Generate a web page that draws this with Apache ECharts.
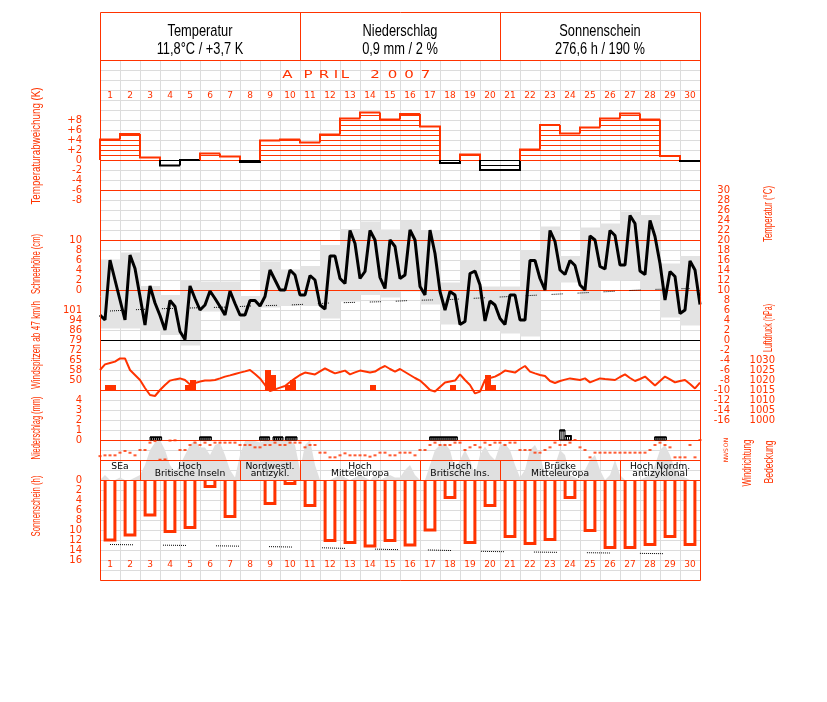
<!DOCTYPE html>
<html><head><meta charset="utf-8">
<script src="https://cdn.jsdelivr.net/npm/echarts@6/dist/echarts.min.js"></script>
<style>html,body{margin:0;padding:0;background:#fff}#c{width:827px;height:702px}</style>
</head><body><div id="c"></div>
<script>
const RED = '#ff3300';
const SANS = "'Liberation Sans',Arial,sans-serif";
const PIX = "'DejaVu Sans',sans-serif";

// ---------- DATA ----------
const days = Array.from({length: 30}, (_, i) => String(i + 1));
const headerTitles = ['Temperatur', 'Niederschlag', 'Sonnenschein'];
const headerValues = ['11,8°C / +3,7 K', '0,9 mm / 2 %', '276,6 h / 190 %'];
const monthTitle = 'APRIL 2007';

// daily temperature deviation (K)
const tempDev = [4.1, 5.2, 0.5, -1.1, 0.0, 1.3, 0.7, -0.4, 3.9, 4.1, 3.5, 5.1, 8.3, 9.5, 8.1, 9.2, 6.7, -0.6, 1.1, -2.0, -2.0, 2.1, 7.0, 5.3, 6.5, 8.3, 9.3, 8.1, 0.8, -0.2];

// 6-hourly air temperature (°C), from 1 Apr 00h to 1 May 00h
const temp6h = [5, 4, 16, 12, 8, 4, 17, 14.3, 8.7, 3,
  10.8, 7.4, 4.9, 2, 7.9, 6.7, 1.7, 0.1, 10.8, 8.3,
  6, 7, 9.8, 8.3, 6.7, 5, 9.8, 7.3, 5, 5,
  7.9, 7.9, 6.8, 8.7, 14, 12, 10, 10, 14, 13,
  9, 9, 12.9, 12, 7, 6.2, 16.8, 16.8, 12.3, 11.3,
  21.9, 19.3, 12.3, 13.7, 21.9, 20, 12.5, 10.3, 20, 18.7,
  12.3, 13, 22, 20, 10.7, 9, 22, 17.3, 9.7, 6,
  9.7, 9, 3.1, 3.7, 13.3, 13.8, 11, 3.8, 7.8, 7,
  4.3, 3.1, 9, 9, 4, 4, 15.9, 15.9, 12.3, 10,
  21.9, 19.7, 14, 13.1, 15.9, 14.9, 11, 10, 20.8, 20,
  14.7, 14.2, 21.9, 20.9, 15, 15, 24.9, 23.3, 13.8, 13.1,
  23.9, 20.7, 15.3, 8, 13.7, 12.7, 5.3, 6, 15.8, 14,
  7.1];

// daily max / min temperature (°C)
const tempMax = [16.1, 17.5, 10.8, 9.0, 12.0, 11.7, 11.7, 8.8, 15.7, 14.1, 14.8, 19.0, 22.2, 23.7, 22.1, 23.9, 22.0, 11.5, 16.0, 10.7, 10.7, 18.0, 22.7, 16.8, 22.5, 23.3, 25.7, 25.0, 15.3, 16.8];
const tempMin = [2.3, 2.3, 2.0, 1.0, -1.1, 5.7, 4.0, 2.0, 6.5, 6.8, 6.8, 4.3, 7.7, 9.0, 8.5, 9.7, 7.1, 3.1, 2.0, 2.0, 1.3, 0.7, 9.7, 11.5, 7.8, 11.8, 12.0, 10.0, 4.5, 2.9];
// long-term mean daily temperature (°C)
const tempNormal = [5.8, 6.0, 6.2, 6.3, 6.4, 6.5, 6.6, 6.8, 6.9, 7.0, 7.2, 7.4, 7.5, 7.6, 7.7, 7.9, 8.0, 8.1, 8.3, 8.5, 8.7, 8.9, 9.1, 9.3, 9.5, 9.7, 9.9, 10.1, 10.2, 10.3];

// 6-hourly air pressure (hPa)
const pressure6h = [1025, 1027.8, 1028.5, 1029.2, 1030.8, 1030.8, 1025, 1022.5, 1020, 1016,
  1012.5, 1012, 1015, 1017.5, 1019.7, 1020.3, 1020.8, 1020, 1017.8, 1018.5,
  1019.2, 1019.7, 1019.8, 1020, 1020.8, 1021.7, 1022.3, 1023, 1023.7, 1024.3,
  1025, 1023, 1020.8, 1017.5, 1014.5, 1015.3, 1016.2, 1017, 1019, 1020.8,
  1022.5, 1023.7, 1023.3, 1022.8, 1024.3, 1025.8, 1024.5, 1023.3, 1024, 1024.7,
  1022.8, 1023.8, 1024.7, 1024.2, 1023.7, 1024.2, 1025.8, 1027, 1025.5, 1024.2,
  1025.5, 1024, 1022.5, 1021, 1019.7, 1017.5, 1015, 1014.2, 1016.5, 1018.7,
  1019.2, 1019.7, 1022.8, 1020, 1017.5, 1013.3, 1014.2, 1020, 1021, 1021.7,
  1023, 1024.7, 1024.2, 1023.7, 1025.5, 1027, 1024.2, 1023.3, 1022.5, 1022,
  1019.5, 1018.5, 1019.5, 1020.2, 1020.8, 1020.4, 1020, 1020.8, 1018.8, 1019.8,
  1020.8, 1020.5, 1020.3, 1020, 1021.5, 1022.8, 1021, 1019.5, 1020.5, 1021.7,
  1019.5, 1017.2, 1019.5, 1021.7, 1020.3, 1018.8, 1019.5, 1020, 1018, 1015.8,
  1018.7];

// wind gusts >= 47 km/h: start time (days since 1 Apr 00h, 6-hour slots) and speed (km/h)
const gustTime = [0.25, 0.5, 4.25, 4.5, 8.25, 8.5, 9.25, 9.5, 13.5, 17.5, 19.25, 19.5];
const gustKmh = [46.8, 46.8, 46.8, 50.4, 57.6, 54.0, 46.8, 50.4, 46.8, 46.8, 54.0, 46.8];

// precipitation events: start, end (days since 1 Apr 00h), amount (mm)
const precipStart = [2.5, 4.98, 7.98, 8.65, 9.27, 16.48, 22.98, 23.25, 27.73];
const precipEnd = [3.08, 5.57, 8.48, 9.15, 9.85, 17.87, 23.25, 23.57, 28.32];
const precipMm = [0.3, 0.3, 0.3, 0.3, 0.3, 0.3, 1.0, 0.45, 0.3];

// 6-hourly wind direction (degrees)
const windDir6h = [290, 276, 276, 276, 228, 198, 230, 276, 180, 180,
  48, 20, 355, 350, 10, 5, 180, 180, 90, 48,
  90, 48, 90, 48, 48, 48, 48, 48, 90, 90,
  90, 132, 132, 90, 90, 48, 90, 90, 48, 48,
  48, 132, 90, 90, 228, 228, 312, 312, 276, 240,
  276, 276, 276, 276, 300, 276, 228, 228, 276, 276,
  228, 228, 228, 276, 180, 180, 90, 48, 90, 90,
  90, 48, 48, 180, 132, 90, 132, 48, 90, 48,
  48, 90, 48, 48, 180, 180, 180, 228, 228, 180,
  132, 48, 90, 90, 48, 0, 132, 180, 312, 228,
  228, 228, 228, 228, 228, 228, 228, 228, 228, 228,
  180, 90, 48, 90, 132, 312, 312, 312, 90, 312,
  0];

// 6-hourly cloud cover (octas)
const cloud6h = [0, 1, 0, 0, 0.5, 0, 0, 0.5, 1, 3,
  6, 7.5, 8, 6, 3, 1.5, 3, 5, 7, 8,
  6.5, 6.5, 5, 7, 7.4, 5, 2, 0.5, 5, 7.8,
  8, 7.8, 7.5, 7.8, 8, 8, 7.8, 8, 8, 7,
  2, 7, 8, 3, 0, 0, 0, 0.5, 1, 0.5,
  0, 0.5, 1, 0.5, 0, 1, 0, 0.5, 1, 0.5,
  0.5, 2, 3, 1, 0, 0, 3, 6, 7, 7.3,
  6, 2, 4, 6, 4, 1, 5, 6.7, 5, 4,
  7, 7.3, 6, 3, 0.5, 2, 6, 7, 5, 1,
  0.5, 3, 6, 5, 1, 0.5, 0, 2, 4, 5,
  2, 0, 1, 4, 1, 0, 0, 0, 0, 0.5,
  1, 3, 6, 7, 5, 2, 1, 0.5, 0, 0,
  0];

// weather situation periods
const wlStart = [0, 2, 7, 10, 16, 20, 26];
const wlEnd = [2, 7, 10, 16, 20, 26, 30];
const wlLine1 = ['SEa', 'Hoch', 'Nordwestl.', 'Hoch', 'Hoch', 'Brücke', 'Hoch Nordm.'];
const wlLine2 = ['', 'Britische Inseln', 'antizykl.', 'Mitteleuropa', 'Britische Ins.', 'Mitteleuropa', 'antizyklonal'];

// daily sunshine duration (h) and astronomically possible duration (h)
const sunshine = [12.0, 11.0, 7.0, 10.3, 9.5, 1.3, 7.3, 0, 4.7, 0.7, 5.1, 12.1, 12.5, 13.2, 12.1, 13.0, 10.0, 3.5, 12.5, 5.1, 11.3, 12.7, 11.9, 3.5, 10.1, 13.5, 13.5, 12.9, 11.3, 12.9];
const sunPossible = [12.9, 12.95, 13.0, 13.05, 13.1, 13.15, 13.2, 13.27, 13.33, 13.4, 13.5, 13.6, 13.7, 13.8, 13.9, 13.95, 14.0, 14.1, 14.2, 14.3, 14.35, 14.4, 14.45, 14.5, 14.55, 14.6, 14.65, 14.7, 14.75, 14.8];

// tick labels
const devTickVals = [8, 6, 4, 2, 0, -2, -4, -6, -8];
const devTickLabels = ['+8', '+6', '+4', '+2', '0', '-2', '-4', '-6', '-8'];
const snowTicks = [10, 8, 6, 4, 2, 0];
const gustTickLabels = ['50', '58', '65', '72', '79', '86', '94', '101'];
const precipTicks = [4, 3, 2, 1, 0];
const sunTicks = [0, 2, 4, 6, 8, 10, 12, 14, 16];
const tempTicks = [30, 28, 26, 24, 22, 20, 18, 16, 14, 12, 10, 8, 6, 4, 2, 0, -2, -4, -6, -8, -10, -12, -14, -16];
const pressTicks = [1030, 1025, 1020, 1015, 1010, 1005, 1000];
const windDirTicks = [0, 90, 180, 270, 360];
const windDirLabels = ['N', 'O', 'S', 'W', 'N'];

// ---------- CHART ----------
const mctx = document.createElement('canvas').getContext('2d');
function textW(text, font) { mctx.font = font; return mctx.measureText(text).width; }

const chart = echarts.init(document.getElementById('c'), null, {renderer: 'canvas'});
const L = 100, W = 600;
function grid(top, height) { return {left: L, width: W, top: top, height: height, containLabel: false, outerBoundsMode: 'none'}; }
const grids = [
  grid(60, 520),   // 0 background grid
  grid(100, 100),  // 1 temperature deviation
  grid(190, 230),  // 2 temperature
  grid(340, 80),   // 3 pressure
  grid(300, 90),   // 4 wind gusts
  grid(390, 50),   // 5 precipitation
  grid(440, 20),   // 6 wind direction
  grid(440, 40),   // 7 cloud cover
  grid(480, 80),   // 8 sunshine
  grid(100, 460)   // 9 day labels
];
function hx(g) { return {type: 'value', gridIndex: g, min: 0, max: 30, show: false}; }
const lblBase = {color: RED, fontSize: 10, fontFamily: PIX, showMinLabel: true, showMaxLabel: true, hideOverlap: false};
const hideAxis = {axisLine: {show: false}, axisTick: {show: false}, splitLine: {show: false}};

const xAxes = [
  {type: 'value', gridIndex: 0, min: 0, max: 30, interval: 1, axisLine: {show: false}, axisTick: {show: false}, axisLabel: {show: false},
   splitLine: {show: true, lineStyle: {color: '#dcdcdc', width: 1}}},
  hx(1), hx(2), hx(3), hx(4), hx(5), hx(6), hx(7), hx(8),
  Object.assign({type: 'category', gridIndex: 9, data: days, position: 'top', boundaryGap: true,
    axisLabel: {color: RED, fontSize: 9, fontFamily: PIX, interval: 0, margin: 4, verticalAlign: 'middle'}}, hideAxis),
  Object.assign({type: 'category', gridIndex: 9, data: days, position: 'bottom', boundaryGap: true,
    axisLabel: {color: RED, fontSize: 9, fontFamily: PIX, interval: 0, margin: 5, verticalAlign: 'middle'}}, hideAxis)
];

function lbl(fmt, extra) { return Object.assign({}, lblBase, {formatter: fmt}, extra || {}); }
const yAxes = [
  {type: 'value', gridIndex: 0, min: 0, max: 52, interval: 1, inverse: true, axisLine: {show: false}, axisTick: {show: false}, axisLabel: {show: false},
   splitLine: {show: true, lineStyle: {color: '#dcdcdc', width: 1}}},
  Object.assign({type: 'value', gridIndex: 1, min: -8, max: 12, interval: 2, position: 'left',
    axisLabel: lbl(v => { const i = devTickVals.indexOf(Math.round(v)); return i < 0 ? '' : devTickLabels[i]; }, {margin: 18})}, hideAxis),
  Object.assign({type: 'value', gridIndex: 2, min: -16, max: 30, interval: 2, position: 'right',
    axisLabel: lbl(v => tempTicks.indexOf(Math.round(v)) < 0 ? '' : String(Math.round(v)), {margin: 30, align: 'right'})}, hideAxis),
  Object.assign({type: 'value', gridIndex: 2, min: -26, max: 20, interval: 2, position: 'left',
    axisLabel: lbl(v => snowTicks.indexOf(Math.round(v)) < 0 ? '' : String(Math.round(v)), {margin: 18})}, hideAxis),
  Object.assign({type: 'value', gridIndex: 3, min: 1000, max: 1040, interval: 5, position: 'right',
    axisLabel: lbl(v => pressTicks.indexOf(Math.round(v)) < 0 ? '' : String(Math.round(v)), {margin: 75, align: 'right'})}, hideAxis),
  Object.assign({type: 'value', gridIndex: 4, min: 43.2, max: 108, interval: 7.2, position: 'left',
    axisLabel: lbl(v => { const k = Math.round((v - 43.2) / 7.2) - 1; return (k >= 0 && k < gustTickLabels.length) ? gustTickLabels[k] : ''; }, {margin: 18})}, hideAxis),
  Object.assign({type: 'value', gridIndex: 5, min: 0, max: 5, interval: 1, position: 'left',
    axisLabel: lbl(v => precipTicks.indexOf(Math.round(v)) < 0 ? '' : String(Math.round(v)), {margin: 18})}, hideAxis),
  {type: 'value', gridIndex: 6, min: 0, max: 360, interval: 90, inverse: true, position: 'right', show: false},
  {type: 'value', gridIndex: 7, min: 0, max: 8, show: false},
  Object.assign({type: 'value', gridIndex: 8, min: 0, max: 16, interval: 2, inverse: true, position: 'left',
    axisLabel: lbl(v => sunTicks.indexOf(Math.round(v)) < 0 ? '' : String(Math.round(v)), {margin: 18})}, hideAxis),
  {type: 'value', gridIndex: 9, min: 0, max: 1, show: false}
];

const series = [];
// temperature deviation hatched steps
series.push({
  type: 'custom', xAxisIndex: 1, yAxisIndex: 1, z: 3,
  data: tempDev.map((v, i) => [i, v]),
  renderItem: function (params, api) {
    const i = api.value(0), v = api.value(1);
    const sg = x => (x > 0 ? 1 : -1);
    const p0 = api.coord([i, 0]), p1 = api.coord([i + 1, v]);
    const col = v > 0 ? RED : '#000';
    const kids = [];
    const n = Math.floor(Math.abs(v) + 1e-9);
    for (let k = 0; k <= n; k++) {
      const y = Math.round(api.coord([i, sg(v) * k])[1]) + 0.5;
      kids.push({type: 'line', shape: {x1: p0[0], y1: y, x2: p1[0], y2: y}, style: {stroke: col, lineWidth: 1}});
    }
    const prev = i > 0 ? tempDev[i - 1] : null;
    const next = i < tempDev.length - 1 ? tempDev[i + 1] : null;
    const startV = (prev !== null && sg(prev) === sg(v)) ? prev : 0;
    const pts = [[p0[0], api.coord([i, startV])[1]], [p0[0], p1[1]], [p1[0], p1[1]]];
    if (next === null || sg(next) !== sg(v)) pts.push([p1[0], p0[1]]);
    kids.push({type: 'polyline', shape: {points: pts}, style: {stroke: col, lineWidth: 2, fill: null}});
    return {type: 'group', children: kids};
  }
});
// temperature daily range boxes
series.push({
  type: 'custom', xAxisIndex: 2, yAxisIndex: 2, z: 1,
  data: tempMax.map((v, i) => [i, tempMin[i], v]),
  encode: {x: 0, y: [1, 2]},
  renderItem: function (params, api) {
    const i = api.value(0);
    const a = api.coord([i, api.value(2)]), b = api.coord([i + 1, api.value(1)]);
    return {type: 'rect', shape: {x: a[0], y: a[1], width: b[0] - a[0], height: b[1] - a[1]}, style: {fill: '#e3e3e3'}};
  }
});
// long-term mean temperature (dotted)
series.push({
  type: 'line', xAxisIndex: 2, yAxisIndex: 2, z: 3, symbol: 'none', silent: true,
  data: tempNormal.map((v, i) => [i + 0.5, v]),
  lineStyle: {color: '#000', width: 1, type: [1, 1, 1, 1, 1, 1, 1, 1, 1, 1, 1, 15]}
});
// temperature line
series.push({
  type: 'line', xAxisIndex: 2, yAxisIndex: 2, z: 4, symbol: 'none',
  data: temp6h.map((v, k) => [k / 4, v]),
  lineStyle: {color: '#000', width: 3}
});
// pressure
series.push({
  type: 'line', xAxisIndex: 3, yAxisIndex: 4, z: 4, symbol: 'none',
  data: pressure6h.map((v, k) => [k / 4, v]),
  lineStyle: {color: RED, width: 2}
});
// wind gusts
series.push({
  type: 'custom', xAxisIndex: 4, yAxisIndex: 5, z: 3,
  data: gustTime.map((t, j) => [t, gustKmh[j]]),
  renderItem: function (params, api) {
    const t = api.value(0);
    const a = api.coord([t, api.value(1)]), b = api.coord([t + 0.25, 43.2]);
    return {type: 'rect', shape: {x: a[0], y: a[1], width: b[0] - a[0] + 1, height: b[1] - a[1]}, style: {fill: RED}};
  }
});
// precipitation
series.push({
  type: 'custom', xAxisIndex: 5, yAxisIndex: 6, z: 4,
  data: precipStart.map((s, j) => [s, precipEnd[j], precipMm[j]]),
  encode: {x: [0, 1], y: 2},
  renderItem: function (params, api) {
    const a = api.coord([api.value(0), api.value(2)]), b = api.coord([api.value(1), 0]);
    const kids = [{type: 'rect', shape: {x: a[0], y: a[1], width: b[0] - a[0], height: b[1] - a[1]}, style: {fill: '#fff', stroke: '#000', lineWidth: 1}},
      {type: 'line', shape: {x1: a[0], y1: a[1] + 0.5, x2: b[0], y2: a[1] + 0.5}, style: {stroke: '#000', lineWidth: 2}}];
    for (let x = a[0] + 1.5; x < b[0] - 0.5; x += 2) {
      kids.push({type: 'line', shape: {x1: x, y1: a[1] + 1, x2: x, y2: b[1]}, style: {stroke: '#000', lineWidth: 1}});
    }
    return {type: 'group', children: kids};
  }
});
// cloud cover
series.push({
  type: 'line', xAxisIndex: 7, yAxisIndex: 8, z: 1, symbol: 'none',
  data: cloud6h.map((v, k) => [k / 4, v]),
  lineStyle: {width: 0, color: '#e0e0e0'},
  areaStyle: {color: '#e0e0e0', opacity: 1}
});
// wind direction
series.push({
  type: 'scatter', xAxisIndex: 6, yAxisIndex: 7, z: 4, symbol: 'rect', symbolSize: [3, 2],
  data: windDir6h.map((d, k) => [k / 4, d]),
  itemStyle: {color: RED}
});
// wind direction axis letters (placed through the wind-direction scale)
series.push({
  type: 'custom', xAxisIndex: 6, yAxisIndex: 7, z: 6, silent: true, clip: false,
  data: windDirTicks.map((d, j) => [30, d, j]),
  renderItem: function (params, api) {
    const p = api.coord([30, api.value(1)]);
    return {type: 'text', x: p[0] + 26, y: p[1], rotation: Math.PI / 2,
      style: {text: windDirLabels[api.value(2)], fill: RED, font: '6px ' + PIX, textAlign: 'center', textVerticalAlign: 'middle', align: 'center', verticalAlign: 'middle'}};
  }
});
// weather situation boxes
const WLFONT = '8px ' + PIX;
series.push({
  type: 'custom', xAxisIndex: 7, yAxisIndex: 8, z: 6,
  data: wlStart.map((s, j) => [s, wlEnd[j], j]),
  encode: {x: [0, 1], y: 2},
  renderItem: function (params, api) {
    const j = api.value(2);
    const a = api.coord([api.value(0), 8]), b = api.coord([api.value(1), 0]);
    const top = a[1] + 20, bot = b[1];
    const cx = (a[0] + b[0]) / 2;
    const kids = [];
    if (api.value(0) > 0) kids.push({type: 'line', shape: {x1: Math.round(a[0]) + 0.5, y1: top, x2: Math.round(a[0]) + 0.5, y2: bot}, style: {stroke: RED, lineWidth: 1}});
    const ts = {fill: '#000', font: WLFONT, textAlign: 'center', textVerticalAlign: 'middle', align: 'center', verticalAlign: 'middle'};
    kids.push({type: 'text', x: cx, y: top + 6.5, scaleX: 1.15, style: Object.assign({text: wlLine1[j]}, ts)});
    kids.push({type: 'text', x: cx, y: top + 14, scaleX: 1.15, style: Object.assign({text: wlLine2[j]}, ts)});
    return {type: 'group', children: kids};
  }
});
// sunshine bars
series.push({
  type: 'custom', xAxisIndex: 8, yAxisIndex: 9, z: 4,
  data: sunshine.map((h, i) => [i, h]),
  renderItem: function (params, api) {
    const i = api.value(0), h = api.value(1);
    if (!h) return null;
    const c0 = api.coord([i + 0.5, 0]), c1 = api.coord([i + 0.5, h]);
    const hw = api.size([1, 0])[0] * 0.245;
    return {type: 'group', children: [
      {type: 'rect', shape: {x: c0[0] - hw, y: c0[1] + 1, width: 2 * hw, height: c1[1] - c0[1] - 1}, style: {fill: '#fff'}},
      {type: 'polyline', shape: {points: [[c0[0] - hw, c0[1] + 1], [c0[0] - hw, c1[1]], [c0[0] + hw, c1[1]], [c0[0] + hw, c0[1] + 1]]}, style: {stroke: RED, lineWidth: 3, fill: null}}
    ]};
  }
});
// possible sunshine (dotted)
const sunDash = []; for (let k = 0; k < 12; k++) sunDash.push(1, 1); sunDash[sunDash.length - 1] = 30;
series.push({
  type: 'line', xAxisIndex: 8, yAxisIndex: 9, z: 5, symbol: 'none', silent: true,
  data: sunPossible.map((v, i) => [i + 0.5, v]),
  lineStyle: {color: '#000', width: 1, type: sunDash}
});

// ---------- GRAPHIC (frame, separators, titles) ----------
const g = [];
const CENTER = {textAlign: 'center', textVerticalAlign: 'middle', align: 'center', verticalAlign: 'middle'};
function hline(y, col, z) { g.push({type: 'line', z: z || 2.5, shape: {x1: 100, y1: y + 0.5, x2: 700, y2: y + 0.5}, style: {stroke: col, lineWidth: 1}}); }
[60, 190, 240, 290, 390, 440, 460, 480].forEach(y => hline(y, RED));
hline(340, '#000');
g.push({type: 'rect', z: 7, shape: {x: 100.5, y: 12.5, width: 600, height: 568}, style: {stroke: RED, fill: null, lineWidth: 1}});
[300, 500].forEach(x => g.push({type: 'line', z: 7, shape: {x1: x + 0.5, y1: 12, x2: x + 0.5, y2: 60}, style: {stroke: RED, lineWidth: 1}}));
const HFONT = '17px ' + SANS;
const hScale = 65 / textW(headerTitles[0], HFONT);
[0, 1, 2].forEach(j => {
  g.push({type: 'rect', z: 6, shape: {x: 101 + j * 200, y: 13, width: 199, height: 47}, style: {fill: '#fff'}});
  g.push({type: 'text', z: 8, x: 200 + j * 200, y: 31, scaleX: hScale, style: Object.assign({text: headerTitles[j], fill: '#000', font: HFONT}, CENTER)});
  g.push({type: 'text', z: 8, x: 200 + j * 200, y: 49, scaleX: hScale, style: Object.assign({text: headerValues[j], fill: '#000', font: HFONT}, CENTER)});
});
// month title, letter spaced
const mx = [287.5, 308, 324, 336, 345, 360, 375, 392.5, 409, 425.5];
monthTitle.split('').forEach((ch, i) => {
  if (ch === ' ') return;
  g.push({type: 'text', z: 8, x: mx[i], y: 75.5, scaleX: 1.5, style: Object.assign({text: ch, fill: RED, font: '10px ' + PIX}, CENTER)});
});
const TFONT = '12px ' + SANS;
function vtitle(text, x, y, len) {
  const s = len / textW(text, TFONT);
  g.push({type: 'text', z: 8, x: x, y: y, rotation: Math.PI / 2, scaleX: s, style: Object.assign({text: text, fill: RED, font: TFONT}, CENTER)});
}
vtitle('Temperaturabweichung (K)', 37, 146, 117);
vtitle('Schneehöhe (cm)', 37, 264, 60);
vtitle('Windspitzen ab 47 km/h', 37, 345, 88);
vtitle('Niederschlag (mm)', 37, 428, 63);
vtitle('Sonnenschein (h)', 37, 506, 61);
vtitle('Temperatur (°C)', 769, 214, 56);
vtitle('Luftdruck (hPa)', 769, 328, 48);
vtitle('Windrichtung', 748, 463, 47);
vtitle('Bedeckung', 770, 462, 43);

chart.setOption({
  animation: false,
  backgroundColor: '#fff',
  grid: grids,
  xAxis: xAxes,
  yAxis: yAxes,
  series: series,
  graphic: {elements: g}
});
</script>
</body></html>
